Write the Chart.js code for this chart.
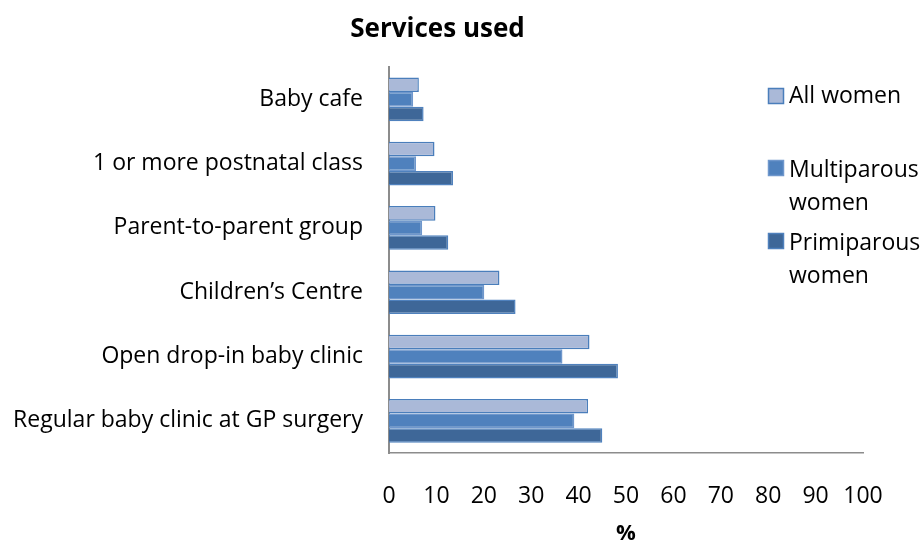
<!DOCTYPE html>
<html><head><meta charset="utf-8">
<script src="https://cdn.jsdelivr.net/npm/chart.js@4"></script>
<style>html,body{margin:0;padding:0;background:#fff}#wrap{width:924px;height:542px}</style>
</head><body><div id="wrap"><canvas id="c" width="924" height="542"></canvas></div>
<script>
const categories = ["Baby cafe","1 or more postnatal class","Parent-to-parent group","Children’s Centre","Open drop-in baby clinic","Regular baby clinic at GP surgery"];
const allWomen = [6.3, 9.6, 9.8, 23.3, 42.3, 42.0];
const multiparous = [5.1, 5.7, 7.0, 20.1, 36.6, 39.1];
const primiparous = [7.3, 13.5, 12.5, 26.7, 48.3, 45.0];
const xTicks = [0,10,20,30,40,50,60,70,80,90,100];
const seriesNames = [["All women"],["Multiparous","women"],["Primiparous","women"]];

const FONT = "'Open Sans'";
const fills = ["#AAB9D8","#4F81BD","#3E6798"];
const borders = ["#4A7EBB","#6F97CC","#4F81BD"];

const legendPlugin = {
  id: 'customLegend',
  afterDraw(chart) {
    const ctx = chart.ctx;
    const squares = [96, 168, 241];
    const baselines = [103, 177, 250];
    ctx.save();
    ctx.font = "23px " + FONT;
    ctx.textBaseline = "alphabetic";
    chart.data.datasets.forEach((ds, i) => {
      const y = squares[i];
      ctx.fillStyle = ds.backgroundColor;
      ctx.strokeStyle = ds.borderColor;
      ctx.lineWidth = 1.5;
      ctx.fillRect(768.5, y - 7.5, 15, 15);
      ctx.strokeRect(768.5, y - 7.5, 15, 15);
      ctx.fillStyle = "#000";
      seriesNames[i].forEach((t, j) => ctx.fillText(t, 789, baselines[i] + j * 33));
    });
    ctx.restore();
  }
};

new Chart(document.getElementById('c'), {
  type: 'bar',
  data: {
    labels: categories,
    datasets: [
      {label: "All women", data: allWomen, backgroundColor: fills[0], borderColor: borders[0], borderWidth: 1.5},
      {label: "Multiparous women", data: multiparous, backgroundColor: fills[1], borderColor: borders[1], borderWidth: 1.5},
      {label: "Primiparous women", data: primiparous, backgroundColor: fills[2], borderColor: borders[2], borderWidth: 1.5}
    ]
  },
  options: {
    indexAxis: 'y',
    responsive: false,
    animation: false,
    maintainAspectRatio: false,
    devicePixelRatio: 1,
    layout: {padding: {left: 12, right: 61, top: 0, bottom: 0}},
    datasets: {bar: {categoryPercentage: 0.68, barPercentage: 1.0}},
    plugins: {
      legend: {display: false},
      tooltip: {enabled: false},
      title: {display: true, text: "Services used", color: "#000",
        font: {family: FONT, size: 26, weight: "bold"}, padding: {top: 14, bottom: 22}}
    },
    scales: {
      x: {
        min: 0, max: 100,
        afterBuildTicks(s){ s.ticks = xTicks.map(v => ({value: v})); },
        afterFit(s){ s.height = 89; },
        grid: {display: false, drawTicks: false},
        border: {display: true, color: "#8C8C8C", width: 1.5},
        ticks: {color: "#000", font: {family: FONT, size: 23}, padding: 30, maxRotation: 0, autoSkip: false},
        title: {display: true, text: "%", color: "#000", font: {family: FONT, size: 22, weight: "bold"}, padding: {top: 4, bottom: -5}}
      },
      y: {
        afterFit(s){ s.width = 377; },
        grid: {display: false, drawTicks: false},
        border: {display: true, color: "#8C8C8C", width: 2},
        ticks: {color: "#000", font: {family: FONT, size: 23}, padding: 26}
      }
    }
  },
  plugins: [legendPlugin]
});
</script></body></html>
